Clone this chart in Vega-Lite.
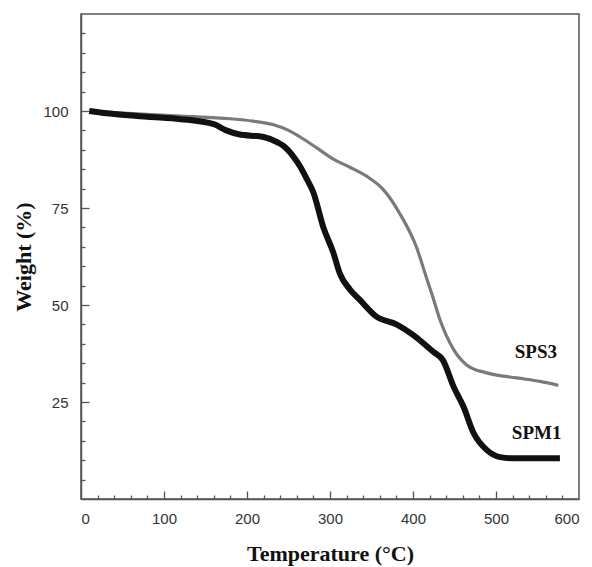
{
  "$schema": "https://vega.github.io/schema/vega-lite/v6.json",
  "width": 498,
  "height": 485,
  "autosize": {"type": "none"},
  "padding": {"left": 81, "top": 14, "right": 13, "bottom": 68},
  "background": "white",
  "config": {
    "view": {"stroke": "#555555", "strokeWidth": 1.5},
    "axis": {
      "domainColor": "#555555", "domainWidth": 1.5, "tickColor": "#555555", "tickWidth": 1.3,
      "grid": false, "labelFont": "Liberation Sans", "labelFontSize": 15, "labelColor": "#333333",
      "titleFont": "Liberation Serif", "titleFontWeight": "bold", "titleFontSize": 22, "titleColor": "#111111"
    }
  },
  "datasets": {
    "tga": [
      {"series": "SPM1", "temp": 10, "weight": 100},
      {"series": "SPM1", "temp": 40, "weight": 99.2},
      {"series": "SPM1", "temp": 80, "weight": 98.5},
      {"series": "SPM1", "temp": 120, "weight": 97.9},
      {"series": "SPM1", "temp": 160, "weight": 96.6},
      {"series": "SPM1", "temp": 175, "weight": 95},
      {"series": "SPM1", "temp": 190, "weight": 94},
      {"series": "SPM1", "temp": 220, "weight": 93.3},
      {"series": "SPM1", "temp": 236, "weight": 92},
      {"series": "SPM1", "temp": 244, "weight": 91},
      {"series": "SPM1", "temp": 255, "weight": 88.5},
      {"series": "SPM1", "temp": 264, "weight": 85.7},
      {"series": "SPM1", "temp": 272, "weight": 82.5},
      {"series": "SPM1", "temp": 280, "weight": 79},
      {"series": "SPM1", "temp": 292, "weight": 70},
      {"series": "SPM1", "temp": 304, "weight": 63.5},
      {"series": "SPM1", "temp": 312, "weight": 58},
      {"series": "SPM1", "temp": 324, "weight": 54},
      {"series": "SPM1", "temp": 336, "weight": 51.3},
      {"series": "SPM1", "temp": 356, "weight": 47},
      {"series": "SPM1", "temp": 380, "weight": 45},
      {"series": "SPM1", "temp": 400, "weight": 42.3},
      {"series": "SPM1", "temp": 424, "weight": 38},
      {"series": "SPM1", "temp": 436, "weight": 35.8},
      {"series": "SPM1", "temp": 449, "weight": 28.9},
      {"series": "SPM1", "temp": 461, "weight": 23.7},
      {"series": "SPM1", "temp": 473, "weight": 17},
      {"series": "SPM1", "temp": 489, "weight": 12.6},
      {"series": "SPM1", "temp": 505, "weight": 10.8},
      {"series": "SPM1", "temp": 520, "weight": 10.5},
      {"series": "SPM1", "temp": 577, "weight": 10.5},
      {"series": "SPS3", "temp": 10, "weight": 100},
      {"series": "SPS3", "temp": 40, "weight": 99.6},
      {"series": "SPS3", "temp": 120, "weight": 98.7},
      {"series": "SPS3", "temp": 180, "weight": 98},
      {"series": "SPS3", "temp": 207, "weight": 97.4},
      {"series": "SPS3", "temp": 231, "weight": 96.5},
      {"series": "SPS3", "temp": 250, "weight": 95},
      {"series": "SPS3", "temp": 264, "weight": 93.3},
      {"series": "SPS3", "temp": 284, "weight": 90.5},
      {"series": "SPS3", "temp": 304, "weight": 87.6},
      {"series": "SPS3", "temp": 324, "weight": 85.5},
      {"series": "SPS3", "temp": 344, "weight": 83.2},
      {"series": "SPS3", "temp": 364, "weight": 79.8},
      {"series": "SPS3", "temp": 384, "weight": 73.6},
      {"series": "SPS3", "temp": 404, "weight": 65},
      {"series": "SPS3", "temp": 417, "weight": 56.5},
      {"series": "SPS3", "temp": 424, "weight": 52},
      {"series": "SPS3", "temp": 432, "weight": 46.5},
      {"series": "SPS3", "temp": 449, "weight": 38.5},
      {"series": "SPS3", "temp": 465, "weight": 34.5},
      {"series": "SPS3", "temp": 489, "weight": 32.5},
      {"series": "SPS3", "temp": 525, "weight": 31.2},
      {"series": "SPS3", "temp": 553, "weight": 30.3},
      {"series": "SPS3", "temp": 575, "weight": 29.3}
    ],
    "labels": [
      {"label": "SPS3", "temp": 548, "weight": 38},
      {"label": "SPM1", "temp": 549, "weight": 17}
    ]
  },
  "resolve": {"axis": {"x": "independent", "y": "independent"}},
  "layer": [
    {
      "data": {"name": "tga"},
      "transform": [{"filter": "datum.series === 'SPS3'"}],
      "mark": {"type": "line", "color": "#7a7a7a", "strokeWidth": 3.2, "interpolate": "monotone"},
      "encoding": {
        "x": {"field": "temp", "type": "quantitative", "scale": {"domain": [0, 600], "nice": false},
          "axis": {"orient": "bottom", "values": [0, 100, 200, 300, 400, 500, 600], "ticks": false, "labelPadding": 12, "title": "Temperature (°C)", "titlePadding": 17}},
        "y": {"field": "weight", "type": "quantitative", "scale": {"domain": [0, 125], "nice": false},
          "axis": {"orient": "left", "values": [25, 50, 75, 100], "ticks": false, "labelPadding": 13, "title": "Weight (%)", "titlePadding": 7}}
      }
    },
    {
      "data": {"name": "tga"},
      "transform": [{"filter": "datum.series === 'SPM1'"}],
      "mark": {"type": "line", "color": "#111111", "strokeWidth": 6, "interpolate": "monotone"},
      "encoding": {
        "x": {"field": "temp", "type": "quantitative",
          "axis": {"orient": "bottom", "values": [20, 40, 60, 80, 120, 140, 160, 180, 220, 240, 260, 280, 320, 340, 360, 380, 420, 440, 460, 480, 520, 540, 560, 580], "tickSize": 4, "offset": -4, "labels": false, "domain": false, "title": null}},
        "y": {"field": "weight", "type": "quantitative",
          "axis": {"orient": "left", "values": [5, 10, 15, 20, 30, 35, 40, 45, 55, 60, 65, 70, 80, 85, 90, 95, 105, 110, 115, 120], "tickSize": 4, "offset": -4, "labels": false, "domain": false, "title": null}}
      }
    },
    {
      "data": {"name": "labels"},
      "mark": {"type": "text", "font": "Liberation Serif", "fontWeight": "bold", "fontSize": 19, "color": "#111111"},
      "encoding": {
        "x": {"field": "temp", "type": "quantitative",
          "axis": {"orient": "bottom", "values": [100, 200, 300, 400, 500], "tickSize": 8, "offset": -8, "labels": false, "domain": false, "title": null}},
        "y": {"field": "weight", "type": "quantitative",
          "axis": {"orient": "left", "values": [25, 50, 75, 100], "tickSize": 8, "offset": -8, "labels": false, "domain": false, "title": null}},
        "text": {"field": "label"}
      }
    }
  ]
}
